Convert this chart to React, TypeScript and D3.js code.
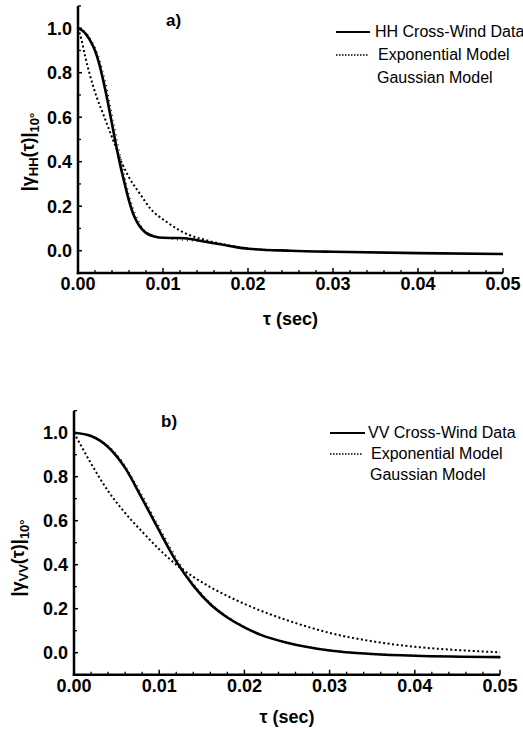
import React from 'react';
import * as d3 from 'd3';

// tau values (sec) and correlation values
const hhDataTau = [0, 0.0005, 0.001, 0.0015, 0.002, 0.0025, 0.003, 0.0035, 0.004, 0.0045, 0.005, 0.0055, 0.006, 0.0065, 0.007, 0.0075, 0.008, 0.009, 0.01, 0.0115, 0.0125, 0.015, 0.018, 0.02, 0.025, 0.03, 0.04, 0.05];
const hhDataVal = [1.0, 0.99, 0.97, 0.94, 0.9, 0.84, 0.76, 0.67, 0.57, 0.47, 0.38, 0.3, 0.225, 0.165, 0.125, 0.098, 0.08, 0.064, 0.058, 0.057, 0.056, 0.04, 0.02, 0.009, 0.0, -0.005, -0.011, -0.015];

const hhExpTau = [0, 0.0004, 0.0008, 0.0014, 0.0022, 0.003, 0.0038, 0.0045, 0.0051, 0.006, 0.0073, 0.0085, 0.0104, 0.0128, 0.015, 0.0183, 0.0202, 0.025];
const hhExpVal = [1.0, 0.95, 0.88, 0.79, 0.69, 0.61, 0.53, 0.46, 0.4, 0.33, 0.255, 0.19, 0.13, 0.075, 0.048, 0.02, 0.009, 0.0];

const hhGaussTau = [0, 0.001, 0.002, 0.003, 0.004, 0.005, 0.006, 0.007, 0.008, 0.01, 0.015, 0.02, 0.03, 0.05];
const hhGaussVal = [1.0, 0.97, 0.9, 0.77, 0.58, 0.39, 0.23, 0.13, 0.08, 0.058, 0.038, 0.01, -0.005, -0.015];

const vvDataTau = [0, 0.002, 0.004, 0.006, 0.008, 0.01, 0.012, 0.014, 0.016, 0.018, 0.02, 0.022, 0.025, 0.03, 0.035, 0.04, 0.05];
const vvDataVal = [1.0, 0.985, 0.935, 0.84, 0.7, 0.555, 0.415, 0.305, 0.22, 0.16, 0.115, 0.08, 0.045, 0.01, -0.006, -0.014, -0.02];

const vvExpTau = [0, 0.002, 0.004, 0.006, 0.008, 0.01, 0.012, 0.014, 0.016, 0.018, 0.02, 0.023, 0.026, 0.03, 0.035, 0.04, 0.045, 0.05];
const vvExpVal = [1.0, 0.86, 0.735, 0.635, 0.55, 0.47, 0.4, 0.345, 0.298, 0.258, 0.222, 0.175, 0.135, 0.09, 0.052, 0.027, 0.012, 0.002];

const vvGaussTau = [0, 0.0025, 0.005, 0.0075, 0.01, 0.0125, 0.015, 0.02, 0.025, 0.03, 0.04, 0.05];
const vvGaussVal = [1.0, 0.975, 0.895, 0.74, 0.56, 0.39, 0.26, 0.115, 0.045, 0.012, -0.012, -0.02];

const xTicks = [0, 0.01, 0.02, 0.03, 0.04, 0.05];
const yTicks = [0.0, 0.2, 0.4, 0.6, 0.8, 1.0];

const FONT = '"Liberation Sans", Arial, sans-serif';

type Pt = [number, number];
const zip = (t: number[], v: number[]): Pt[] => t.map((d, i) => [d, v[i]]);

type PanelProps = {
  x0: number; x1: number; yZero: number; yOne: number;
  tag: string; tagX: number; tagY: number;
  pol: string; legendX: number; legendY: number; legendGap: number; lineX0: number; lineX1: number;
  ylabX: number; ylabY: number; titleY: number;
  data: Pt[]; expo: Pt[]; gauss: Pt[];
};

function Panel(p: PanelProps) {
  const slope = p.yZero - p.yOne;
  const x = d3.scaleLinear().domain([0, 0.05]).range([p.x0, p.x1]);
  const y = d3.scaleLinear().domain([-0.1, 1.1]).range([p.yZero + 0.1 * slope, p.yZero - 1.1 * slope]);
  const line = d3.line<Pt>().x(d => x(d[0])).y(d => y(d[1])).curve(d3.curveMonotoneX);
  const yBot = y(-0.1);
  const minorX = d3.range(0, 0.0501, 0.002).filter(v => Math.abs(v * 100 - Math.round(v * 100)) > 1e-6);
  const minorY = d3.range(-0.1, 1.11, 0.1).filter((v, i) => i % 2 === 0);

  return (
    <g>
      {/* curves */}
      <path d={line(p.gauss) || ''} fill="none" stroke="#000" strokeWidth={1.2} strokeDasharray="1,4" transform="translate(1.5,0)" />
      <path d={line(p.expo) || ''} fill="none" stroke="#000" strokeWidth={2} strokeDasharray="2,2.5" />
      <path d={line(p.data) || ''} fill="none" stroke="#000" strokeWidth={2.6} />

      {/* axes */}
      <line x1={p.x0} x2={p.x0} y1={y(1.1)} y2={yBot + 1.2} stroke="#000" strokeWidth={2.5} />
      <line x1={p.x0 - 1.2} x2={x(0.05)} y1={yBot} y2={yBot} stroke="#000" strokeWidth={2.5} />
      {xTicks.map(t => (
        <g key={'xt' + t}>
          <line x1={x(t)} x2={x(t)} y1={yBot} y2={yBot - 5} stroke="#000" strokeWidth={1.5} />
          <text x={x(t)} y={yBot + 17} textAnchor="middle" fontFamily={FONT} fontWeight="bold" fontSize={18}>{t.toFixed(2)}</text>
        </g>
      ))}
      {minorX.map(t => (
        <line key={'xm' + t} x1={x(t)} x2={x(t)} y1={yBot} y2={yBot - 3} stroke="#000" strokeWidth={1.3} />
      ))}
      {yTicks.map(t => (
        <g key={'yt' + t}>
          <line x1={p.x0} x2={p.x0 + 4} y1={y(t)} y2={y(t)} stroke="#000" strokeWidth={1.5} />
          <text x={p.x0 - 6} y={y(t)} dy="0.36em" textAnchor="end" fontFamily={FONT} fontWeight="bold" fontSize={18}>{t.toFixed(1)}</text>
        </g>
      ))}
      {minorY.map(t => (
        <line key={'ym' + t} x1={p.x0} x2={p.x0 + 3} y1={y(t)} y2={y(t)} stroke="#000" strokeWidth={1.3} />
      ))}

      {/* labels */}
      <text x={p.tagX} y={p.tagY} fontFamily={FONT} fontWeight="bold" fontSize={17}>{p.tag}</text>
      <text x={(p.x0 + p.x1) / 2} y={p.titleY} textAnchor="middle" fontFamily={FONT} fontWeight="bold" fontSize={18}>τ (sec)</text>
      <text transform={`translate(${p.ylabX},${p.ylabY}) rotate(-90)`} textAnchor="middle" fontFamily={FONT} fontWeight="bold" fontSize={18}>
        |γ<tspan fontSize={13} dy={4}>{p.pol}</tspan><tspan dy={-4}>(τ)|</tspan><tspan fontSize={13} dy={5}>10°</tspan>
      </text>

      {/* legend */}
      <line x1={p.lineX0} x2={p.lineX1} y1={p.legendY - 5} y2={p.legendY - 5} stroke="#000" strokeWidth={2} />
      <line x1={p.lineX0} x2={p.lineX1 - 2} y1={p.legendY + p.legendGap - 5} y2={p.legendY + p.legendGap - 5} stroke="#000" strokeWidth={1.4} strokeDasharray="1.5,1.5" />
      <text x={p.legendX} y={p.legendY} fontFamily={FONT} fontSize={16}>{p.pol} Cross-Wind Data</text>
      <text x={p.legendX + 3} y={p.legendY + p.legendGap} fontFamily={FONT} fontSize={16}>Exponential Model</text>
      <text x={p.legendX + 2} y={p.legendY + 2 * p.legendGap} fontFamily={FONT} fontSize={16}>Gaussian Model</text>
    </g>
  );
}

export default function App() {
  return (
    <svg width={523} height={729} style={{ position: 'absolute', left: 0, top: 0, background: '#fff' }}>
      <Panel x0={78} x1={503} yZero={250.7} yOne={28.2}
        tag="a)" tagX={166} tagY={26} pol="HH"
        legendX={375} legendY={37} legendGap={23} lineX0={336} lineX1={370}
        ylabX={34} ylabY={152} titleY={325}
        data={zip(hhDataTau, hhDataVal)} expo={zip(hhExpTau, hhExpVal)} gauss={zip(hhGaussTau, hhGaussVal)} />
      <Panel x0={74} x1={500} yZero={652.7} yOne={432.7}
        tag="b)" tagX={161} tagY={427} pol="VV"
        legendX={368} legendY={438} legendGap={21} lineX0={330} lineX1={365}
        ylabX={24} ylabY={558} titleY={723}
        data={zip(vvDataTau, vvDataVal)} expo={zip(vvExpTau, vvExpVal)} gauss={zip(vvGaussTau, vvGaussVal)} />
    </svg>
  );
}
